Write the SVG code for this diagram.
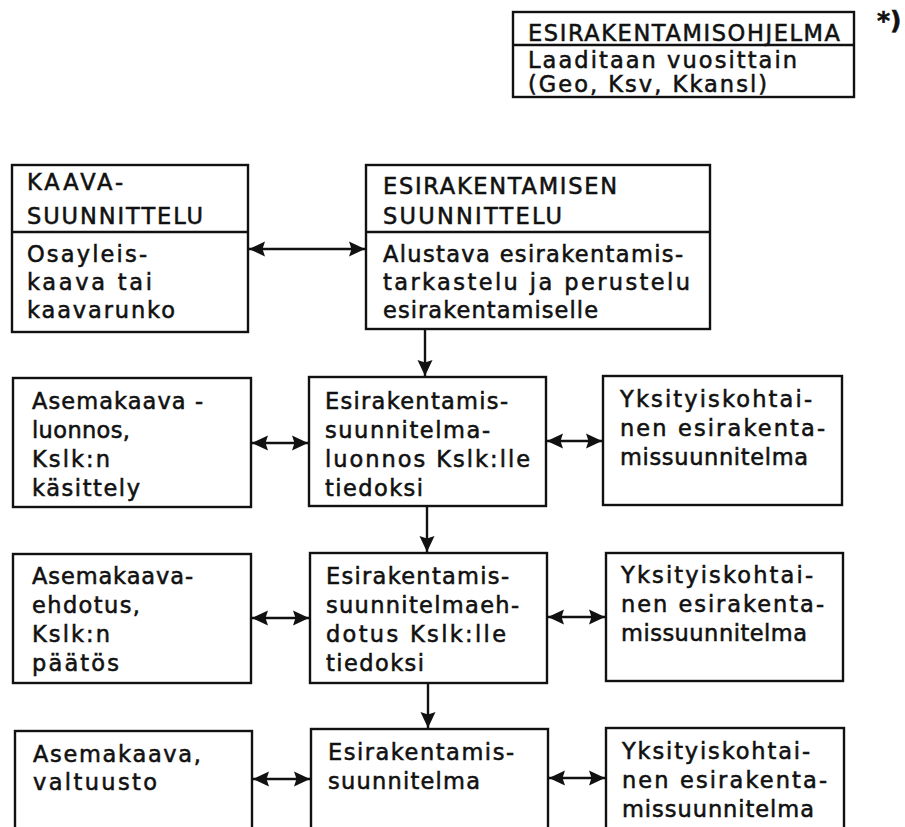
<svg xmlns="http://www.w3.org/2000/svg" width="905" height="827" viewBox="0 0 905 827">
<style>
.box{fill:#fff;stroke:#111;stroke-width:2.4}
.div{stroke:#111;stroke-width:2.4}
.t{font-family:"DejaVu Sans","Liberation Sans",sans-serif;font-size:22.5px;fill:#111;stroke:#111;stroke-width:0.55}
.c{stroke:#111;stroke-width:2.4;fill:none}
.dbl{marker-start:url(#ah);marker-end:url(#ah)}
.one{marker-end:url(#ah)}
</style>
<defs>
<marker id="ah" markerUnits="userSpaceOnUse" markerWidth="18" markerHeight="16" refX="16" refY="8" orient="auto-start-reverse">
<path d="M0,0.5 L16,8 L0,15.5 L2.5,8 z" fill="#111"/>
</marker>
</defs>
<rect width="905" height="827" fill="#fff"/>

<g id="connectors">
<line class="c dbl" x1="249" y1="249" x2="365" y2="249"/>
<line class="c one" x1="425" y1="330" x2="425" y2="376"/>
<line class="c dbl" x1="252" y1="443" x2="308" y2="443"/>
<line class="c dbl" x1="547" y1="441" x2="602" y2="441"/>
<line class="c one" x1="427" y1="507" x2="427" y2="552"/>
<line class="c dbl" x1="252" y1="618" x2="309" y2="618"/>
<line class="c dbl" x1="548" y1="617" x2="605" y2="617"/>
<line class="c one" x1="428" y1="684" x2="428" y2="728"/>
<line class="c dbl" x1="253" y1="779" x2="310" y2="779"/>
<line class="c dbl" x1="549" y1="778" x2="605" y2="778"/>
</g>

<g id="esirakentamisohjelma">
<rect class="box" x="513" y="12" width="341" height="85"/>
<line class="div" x1="513" y1="45" x2="854" y2="45"/>
<text class="t" x="528" y="41" textLength="312">ESIRAKENTAMISOHJELMA</text>
<text class="t" x="528" y="68" textLength="269">Laaditaan vuosittain</text>
<text class="t" x="528" y="92" textLength="239">(Geo, Ksv, Kkansl)</text>
</g>
<g id="footnote-mark">
<text class="t" x="877" y="29" style="font-weight:bold;font-size:25px">*)</text>
</g>

<g id="kaavasuunnittelu">
<rect class="box" x="12" y="165" width="236" height="167"/>
<line class="div" x1="12" y1="232" x2="248" y2="232"/>
<text class="t" x="27" y="190" textLength="96">KAAVA-</text>
<text class="t" x="27" y="224" textLength="176">SUUNNITTELU</text>
<text class="t" x="27" y="262" textLength="120">Osayleis-</text>
<text class="t" x="27" y="290" textLength="125">kaava tai</text>
<text class="t" x="27" y="318" textLength="148">kaavarunko</text>
</g>

<g id="esirakentamisen-suunnittelu">
<rect class="box" x="366" y="165" width="344" height="164"/>
<line class="div" x1="366" y1="232" x2="710" y2="232"/>
<text class="t" x="383" y="194" textLength="234">ESIRAKENTAMISEN</text>
<text class="t" x="383" y="224" textLength="179">SUUNNITTELU</text>
<text class="t" x="383" y="262" textLength="300">Alustava esirakentamis-</text>
<text class="t" x="383" y="290" textLength="307">tarkastelu ja perustelu</text>
<text class="t" x="383" y="318" textLength="215">esirakentamiselle</text>
</g>

<g id="asemakaavaluonnos">
<rect class="box" x="13" y="378" width="238" height="129"/>
<text class="t" x="32" y="409" textLength="171">Asemakaava -</text>
<text class="t" x="32" y="438" textLength="98">luonnos,</text>
<text class="t" x="32" y="467" textLength="78">Kslk:n</text>
<text class="t" x="32" y="496" textLength="108">käsittely</text>
</g>

<g id="suunnitelmaluonnos">
<rect class="box" x="309" y="377" width="237" height="129"/>
<text class="t" x="325" y="409" textLength="183">Esirakentamis-</text>
<text class="t" x="325" y="438" textLength="165">suunnitelma-</text>
<text class="t" x="325" y="467" textLength="205">luonnos Kslk:lle</text>
<text class="t" x="325" y="496" textLength="98">tiedoksi</text>
</g>

<g id="yksityiskohtainen-1">
<rect class="box" x="603" y="376" width="239" height="129"/>
<text class="t" x="620" y="407" textLength="192">Yksityiskohtai-</text>
<text class="t" x="620" y="436" textLength="205">nen esirakenta-</text>
<text class="t" x="620" y="465" textLength="188">missuunnitelma</text>
</g>

<g id="asemakaavaehdotus">
<rect class="box" x="13" y="554" width="238" height="129"/>
<text class="t" x="32" y="584" textLength="161">Asemakaava-</text>
<text class="t" x="32" y="613" textLength="108">ehdotus,</text>
<text class="t" x="32" y="642" textLength="78">Kslk:n</text>
<text class="t" x="32" y="671" textLength="87">päätös</text>
</g>

<g id="suunnitelmaehdotus">
<rect class="box" x="310" y="553" width="237" height="130"/>
<text class="t" x="326" y="584" textLength="183">Esirakentamis-</text>
<text class="t" x="326" y="613" textLength="193">suunnitelmaeh-</text>
<text class="t" x="326" y="642" textLength="180">dotus Kslk:lle</text>
<text class="t" x="326" y="671" textLength="98">tiedoksi</text>
</g>

<g id="yksityiskohtainen-2">
<rect class="box" x="606" y="553" width="237" height="128"/>
<text class="t" x="621" y="583" textLength="192">Yksityiskohtai-</text>
<text class="t" x="621" y="612" textLength="203">nen esirakenta-</text>
<text class="t" x="621" y="641" textLength="186">missuunnitelma</text>
</g>

<g id="asemakaava-valtuusto">
<rect class="box" x="15" y="731" width="237" height="120"/>
<text class="t" x="33" y="762" textLength="168">Asemakaava,</text>
<text class="t" x="33" y="790" textLength="124">valtuusto</text>
</g>

<g id="esirakentamissuunnitelma">
<rect class="box" x="311" y="729" width="237" height="122"/>
<text class="t" x="328" y="760" textLength="186">Esirakentamis-</text>
<text class="t" x="328" y="789" textLength="152">suunnitelma</text>
</g>

<g id="yksityiskohtainen-3">
<rect class="box" x="606" y="728" width="238" height="123"/>
<text class="t" x="622" y="759" textLength="188">Yksityiskohtai-</text>
<text class="t" x="622" y="788" textLength="205">nen esirakenta-</text>
<text class="t" x="622" y="817" textLength="192">missuunnitelma</text>
</g>
</svg>
